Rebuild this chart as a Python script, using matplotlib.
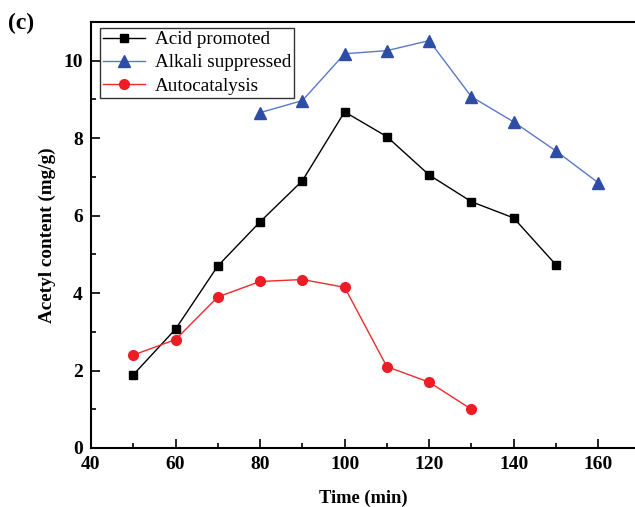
import matplotlib
matplotlib.use("Agg")
import matplotlib.pyplot as plt
from matplotlib.ticker import MultipleLocator

plt.rcParams['font.family'] = ['Liberation Serif', 'DejaVu Serif']

time_acid = [50, 60, 70, 80, 90, 100, 110, 120, 130, 140, 150]
acid_promoted = [1.89, 3.07, 4.70, 5.84, 6.90, 8.68, 8.04, 7.05, 6.36, 5.94, 4.73]

time_alkali = [80, 90, 100, 110, 120, 130, 140, 150, 160]
alkali_suppressed = [8.66, 8.97, 10.18, 10.26, 10.52, 9.07, 8.42, 7.67, 6.85]

time_auto = [50, 60, 70, 80, 90, 100, 110, 120, 130]
autocatalysis = [2.40, 2.80, 3.90, 4.30, 4.35, 4.15, 2.10, 1.70, 1.00]

fig = plt.figure(figsize=(6.35, 5.07), dpi=100)
# axes box: left spine x=91, bottom y=448, top y=22 (pixels)
ax = fig.add_axes([91 / 635, 1 - 448 / 507, 1 - 91 / 635, 426 / 507])

ax.plot(time_acid, acid_promoted, color='black', lw=1.0, marker='s', ms=6,
        label='Acid promoted')
ax.plot(time_alkali, alkali_suppressed, color='#5a78c4', lw=1.0, marker='^', ms=8,
        mfc='#2e4ea6', mec='#2e4ea6', label='Alkali suppressed')
ax.plot(time_auto, autocatalysis, color='#ee2a2a', lw=1.0, marker='o', ms=7,
        mfc='#ee1c25', mec='#ee1c25', label='Autocatalysis')

ax.set_xlim(40, 168.7)
ax.set_ylim(0, 11)
ax.xaxis.set_major_locator(MultipleLocator(20))
ax.xaxis.set_minor_locator(MultipleLocator(10))
ax.yaxis.set_major_locator(MultipleLocator(2))
ax.yaxis.set_minor_locator(MultipleLocator(1))
ax.tick_params(which='both', direction='in', top=False, right=False, width=1.2)
ax.tick_params(which='major', length=6.5, labelsize=14, pad=6)
ax.tick_params(which='minor', length=3.6)
for lab in ax.get_xticklabels() + ax.get_yticklabels():
    lab.set_fontweight('bold')
for s in ['left', 'bottom', 'top']:
    ax.spines[s].set_linewidth(1.5)
ax.spines['right'].set_visible(False)

ax.set_xlabel('Time (min)', fontsize=13.3, fontweight='bold', labelpad=12)
ax.set_ylabel('Acetyl content (mg/g)', fontsize=13.8, fontweight='bold', labelpad=5)

leg = ax.legend(loc='upper left', bbox_to_anchor=(9 / 544, 1 - 6 / 426), fontsize=13.8,
                frameon=True, fancybox=False, edgecolor='black', handlelength=2.2,
                borderpad=0.15, labelspacing=0.3, handletextpad=0.5, borderaxespad=0)
leg.get_frame().set_linewidth(1.0)

fig.text(0.012, 0.975, '(c)', fontsize=17, fontweight='bold', va='top', ha='left')

fig.savefig('out.png', dpi=100)
